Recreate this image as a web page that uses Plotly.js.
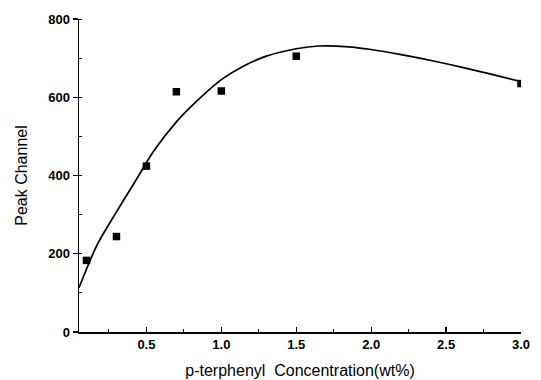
<!DOCTYPE html>
<html>
<head>
<meta charset="utf-8">
<script src="https://cdn.plot.ly/plotly-3.0.1.min.js"></script>
<style>html,body{margin:0;padding:0;background:#fff;}#chart{width:541px;height:380px;}</style>
</head>
<body>
<div id="chart"></div>
<script>
// Measured points
const concentration = [0.1, 0.3, 0.5, 0.7, 1.0, 1.5, 3.0];
const peakChannel = [183, 244, 424, 614, 616, 705, 635];

// Fitted curve
const fitX = [0.05, 0.17, 0.3, 0.43, 0.55, 0.7, 0.85, 1.0, 1.15, 1.3, 1.5, 1.65, 1.85, 2.0, 2.2, 2.4, 2.6, 2.8, 3.0];
const fitY = [113, 222, 307, 388, 463, 537, 595, 645, 680, 705, 724, 731, 729, 722, 709, 694, 677, 659, 640];

const xTitle = 'p-terphenyl  Concentration(wt%)';
const yTitle = 'Peak Channel';

const traces = [
  {x: fitX, y: fitY, mode: 'lines', line: {color: '#000', width: 1.7, shape: 'spline', smoothing: 0.8}, hoverinfo: 'skip'},
  {x: concentration, y: peakChannel, mode: 'markers', marker: {symbol: 'square', size: 7.5, color: '#000'}}
];

const tickFont = {family: 'Arial, "Liberation Sans", sans-serif', size: 13, color: '#000', weight: 'bold'};
const titleFont = {family: 'Arial, "Liberation Sans", sans-serif', size: 16, color: '#000'};

const layout = {
  width: 541, height: 380,
  margin: {l: 79, r: 20, t: 19, b: 48},
  paper_bgcolor: '#fff', plot_bgcolor: '#fff',
  showlegend: false,
  xaxis: {
    range: [0.05, 3.0], tick0: 0, dtick: 0.5, tickformat: '.1f',
    showline: true, linecolor: '#000', linewidth: 1.5,
    ticks: 'inside', ticklen: 5, tickwidth: 1.2, tickcolor: '#000',
    minor: {dtick: 0.25, ticks: 'inside', ticklen: 3, tickwidth: 1, tickcolor: '#000'},
    showgrid: false, zeroline: false,
    tickfont: tickFont,
    title: {text: xTitle, font: titleFont, standoff: 13}
  },
  yaxis: {
    range: [0, 800], tick0: 0, dtick: 200,
    showline: true, linecolor: '#000', linewidth: 1.5,
    ticks: 'outside', ticklen: 5, tickwidth: 1.2, tickcolor: '#000',
    minor: {dtick: 100, ticks: 'inside', ticklen: 3, tickwidth: 1, tickcolor: '#000'},
    showgrid: false, zeroline: false,
    tickfont: tickFont,
    title: {text: yTitle, font: titleFont, standoff: 16}
  }
};

Plotly.newPlot('chart', traces, layout, {displayModeBar: false, staticPlot: true});
</script>
</body>
</html>
